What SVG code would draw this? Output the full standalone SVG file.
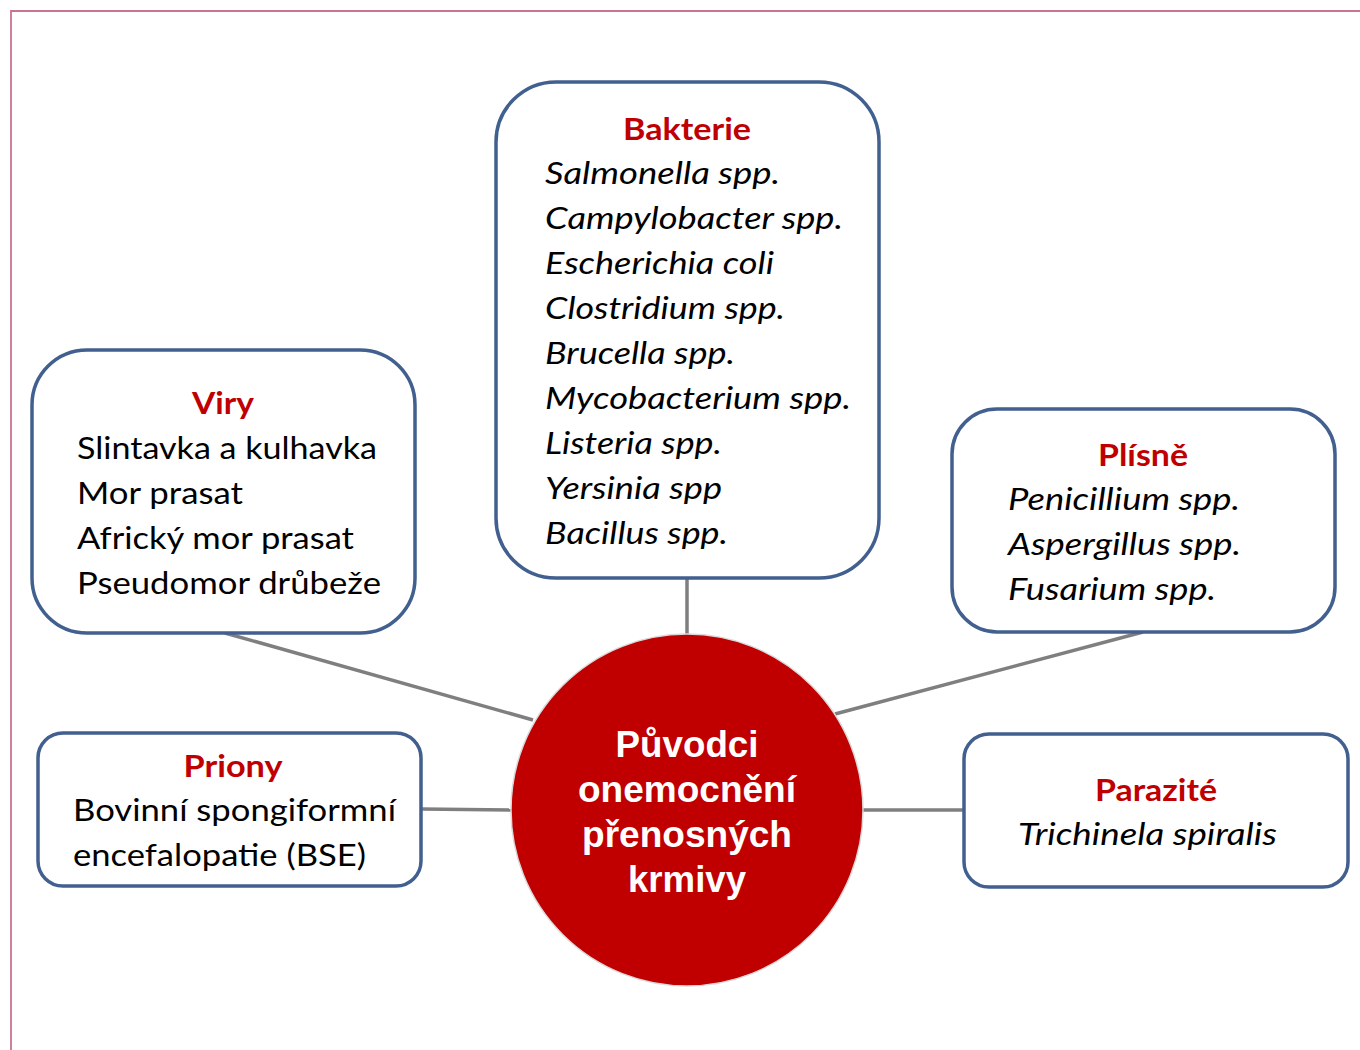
<svg xmlns="http://www.w3.org/2000/svg" width="1360" height="1050" viewBox="0 0 1360 1050">
<style>
.box{fill:#fff;stroke:#41608f;stroke-width:3.5}
.conn{stroke:#7f7f7f;stroke-width:3.5;fill:none}
.t{font-family:Lato,"Open Sans","Liberation Sans",sans-serif;font-size:31px;fill:#000}
.i{font-style:italic}
.h{font-family:Lato,"Open Sans","Liberation Sans",sans-serif;font-size:31px;font-weight:bold;fill:#c00000;text-anchor:middle}
.c{font-family:"Liberation Sans",Arial,sans-serif;font-size:37px;font-weight:bold;fill:#fff;text-anchor:middle}
</style>
<rect width="1360" height="1050" fill="#fff"/>
<path d="M11 1050 V11 H1360" fill="none" stroke="#c87390" stroke-width="1.8"/>
<g id="connectors">
<line class="conn" x1="687" y1="578" x2="687" y2="634"/>
<line class="conn" x1="225" y1="633" x2="533" y2="720"/>
<line class="conn" x1="1143" y1="632" x2="835" y2="714"/>
<line class="conn" x1="421" y1="809" x2="512" y2="810"/>
<line class="conn" x1="964" y1="810" x2="862" y2="810"/>
</g>
<g id="bakterie">
<rect class="box" x="496" y="82" width="383" height="496" rx="60"/>
<text class="h" x="687" y="140" textLength="128" lengthAdjust="spacingAndGlyphs">Bakterie</text>
<text class="t i" x="545" y="184" textLength="235" lengthAdjust="spacingAndGlyphs">Salmonella spp.</text>
<text class="t i" x="545" y="229" textLength="298" lengthAdjust="spacingAndGlyphs">Campylobacter spp.</text>
<text class="t i" x="545" y="274" textLength="229" lengthAdjust="spacingAndGlyphs">Escherichia coli</text>
<text class="t i" x="545" y="319" textLength="240" lengthAdjust="spacingAndGlyphs">Clostridium spp.</text>
<text class="t i" x="545" y="364" textLength="190" lengthAdjust="spacingAndGlyphs">Brucella spp.</text>
<text class="t i" x="545" y="409" textLength="306" lengthAdjust="spacingAndGlyphs">Mycobacterium spp.</text>
<text class="t i" x="545" y="454" textLength="177" lengthAdjust="spacingAndGlyphs">Listeria spp.</text>
<text class="t i" x="545" y="499" textLength="177" lengthAdjust="spacingAndGlyphs">Yersinia spp</text>
<text class="t i" x="545" y="544" textLength="183" lengthAdjust="spacingAndGlyphs">Bacillus spp.</text>
</g>
<g id="viry">
<rect class="box" x="32" y="350" width="383" height="283" rx="55"/>
<text class="h" x="223" y="414" textLength="62" lengthAdjust="spacingAndGlyphs">Viry</text>
<text class="t" x="77" y="459" textLength="300" lengthAdjust="spacingAndGlyphs">Slintavka a kulhavka</text>
<text class="t" x="77" y="504" textLength="166" lengthAdjust="spacingAndGlyphs">Mor prasat</text>
<text class="t" x="77" y="549" textLength="277" lengthAdjust="spacingAndGlyphs">Africký mor prasat</text>
<text class="t" x="77" y="594" textLength="304" lengthAdjust="spacingAndGlyphs">Pseudomor drůbeže</text>
</g>
<g id="plisne">
<rect class="box" x="952" y="409" width="383" height="223" rx="45"/>
<text class="h" x="1143" y="466" textLength="90" lengthAdjust="spacingAndGlyphs">Plísně</text>
<text class="t i" x="1008" y="510" textLength="232" lengthAdjust="spacingAndGlyphs">Penicillium spp.</text>
<text class="t i" x="1008" y="555" textLength="233" lengthAdjust="spacingAndGlyphs">Aspergillus spp.</text>
<text class="t i" x="1008" y="600" textLength="208" lengthAdjust="spacingAndGlyphs">Fusarium spp.</text>
</g>
<g id="priony">
<rect class="box" x="38" y="733" width="383" height="153" rx="25"/>
<text class="h" x="233" y="777" textLength="99" lengthAdjust="spacingAndGlyphs">Priony</text>
<text class="t" x="73" y="821" textLength="323" lengthAdjust="spacingAndGlyphs">Bovinní spongiformní</text>
<text class="t" x="73" y="866" textLength="293" lengthAdjust="spacingAndGlyphs">encefalopatie (BSE)</text>
</g>
<g id="parazite">
<rect class="box" x="964" y="734" width="384" height="153" rx="25"/>
<text class="h" x="1156" y="801" textLength="122" lengthAdjust="spacingAndGlyphs">Parazité</text>
<text class="t i" x="1018" y="845" textLength="259" lengthAdjust="spacingAndGlyphs">Trichinela spiralis</text>
</g>
<g id="center">
<circle cx="687" cy="810" r="176" fill="#c00000" stroke="#d9d9d9" stroke-width="1.5"/>
<text class="c" x="687" y="757" textLength="143" lengthAdjust="spacingAndGlyphs">Původci</text>
<text class="c" x="687" y="802" textLength="218" lengthAdjust="spacingAndGlyphs">onemocnění</text>
<text class="c" x="687" y="847" textLength="210" lengthAdjust="spacingAndGlyphs">přenosných</text>
<text class="c" x="687" y="892" textLength="118" lengthAdjust="spacingAndGlyphs">krmivy</text>
</g>
</svg>
